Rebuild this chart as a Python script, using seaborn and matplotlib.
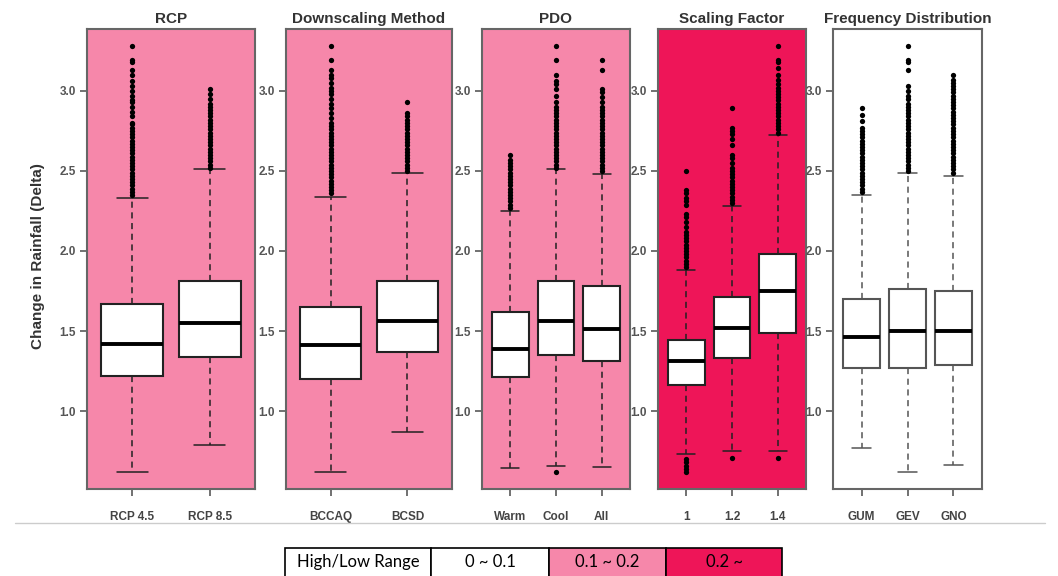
import matplotlib
matplotlib.use("Agg")
import matplotlib.pyplot as plt
from matplotlib.lines import Line2D
from matplotlib.patches import Rectangle
import pandas as pd
import seaborn as sns

# ---- data ----
panel_titles = ["RCP", "Downscaling Method", "PDO", "Scaling Factor", "Frequency Distribution"]
panel_colors = ["#f687aa", "#f687aa", "#f687aa", "#ee1558", "#ffffff"]

rcp_labels = ["RCP 4.5", "RCP 8.5"]
rcp_low = [0.62, 0.79]
rcp_q1 = [1.22, 1.34]
rcp_med = [1.42, 1.55]
rcp_q3 = [1.67, 1.81]
rcp_high = [2.33, 2.51]
rcp_out = [
    [2.35, 2.37, 2.39, 2.41, 2.43, 2.45, 2.47, 2.49, 2.51, 2.53, 2.55, 2.57, 2.59, 2.61,
     2.63, 2.65, 2.67, 2.69, 2.71, 2.73, 2.75, 2.77, 2.79, 2.80, 2.84, 2.87, 2.90, 2.93,
     2.94, 2.97, 3.00, 3.03, 3.06, 3.10, 3.13, 3.18, 3.19, 3.28],
    [2.52, 2.54, 2.56, 2.58, 2.60, 2.62, 2.64, 2.66, 2.68, 2.70, 2.72, 2.74, 2.76, 2.78,
     2.80, 2.82, 2.84, 2.86, 2.88, 2.90, 2.92, 2.95, 2.98, 3.01],
]

dsm_labels = ["BCCAQ", "BCSD"]
dsm_low = [0.62, 0.87]
dsm_q1 = [1.20, 1.37]
dsm_med = [1.41, 1.56]
dsm_q3 = [1.65, 1.81]
dsm_high = [2.34, 2.49]
dsm_out = [
    [2.36, 2.38, 2.40, 2.42, 2.44, 2.46, 2.48, 2.50, 2.52, 2.54, 2.56, 2.58, 2.60, 2.62,
     2.64, 2.66, 2.68, 2.70, 2.72, 2.74, 2.76, 2.78, 2.80, 2.83, 2.86, 2.89, 2.92, 2.95,
     2.98, 3.00, 3.02, 3.05, 3.08, 3.10, 3.13, 3.19, 3.28],
    [2.50, 2.52, 2.54, 2.56, 2.58, 2.60, 2.62, 2.64, 2.66, 2.68, 2.70, 2.72, 2.74, 2.76,
     2.78, 2.80, 2.82, 2.84, 2.86, 2.93],
]

pdo_labels = ["Warm", "Cool", "All"]
pdo_low = [0.645, 0.66, 0.65]
pdo_q1 = [1.21, 1.35, 1.31]
pdo_med = [1.39, 1.56, 1.51]
pdo_q3 = [1.62, 1.81, 1.78]
pdo_high = [2.25, 2.51, 2.48]
pdo_out = [
    [2.27, 2.29, 2.31, 2.33, 2.35, 2.37, 2.39, 2.41, 2.43, 2.45, 2.47, 2.49, 2.51, 2.53,
     2.55, 2.57, 2.60],
    [0.62, 2.52, 2.54, 2.56, 2.58, 2.60, 2.62, 2.64, 2.66, 2.68, 2.70, 2.72, 2.74, 2.76,
     2.78, 2.80, 2.82, 2.84, 2.86, 2.88, 2.90, 2.93, 2.97, 3.01, 3.04, 3.06, 3.10, 3.19, 3.28],
    [2.50, 2.52, 2.54, 2.56, 2.58, 2.60, 2.62, 2.64, 2.66, 2.68, 2.70, 2.72, 2.74, 2.76,
     2.78, 2.80, 2.82, 2.84, 2.86, 2.88, 2.90, 2.93, 2.96, 2.99, 3.01, 3.13, 3.19],
]

sf_labels = ["1", "1.2", "1.4"]
sf_low = [0.73, 0.75, 0.75]
sf_q1 = [1.16, 1.33, 1.49]
sf_med = [1.31, 1.52, 1.75]
sf_q3 = [1.445, 1.71, 1.98]
sf_high = [1.88, 2.28, 2.725]
sf_out = [
    [0.62, 0.64, 0.66, 0.68, 0.70, 1.90, 1.92, 1.94, 1.96, 1.98, 2.00, 2.02, 2.04, 2.06,
     2.08, 2.10, 2.12, 2.15, 2.18, 2.21, 2.23, 2.29, 2.31, 2.33, 2.36, 2.38, 2.50],
    [0.71, 2.30, 2.32, 2.34, 2.36, 2.38, 2.40, 2.42, 2.44, 2.46, 2.48, 2.50, 2.52, 2.55,
     2.58, 2.60, 2.66, 2.70, 2.73, 2.75, 2.77, 2.89],
    [0.71, 2.74, 2.76, 2.78, 2.80, 2.82, 2.84, 2.86, 2.88, 2.90, 2.92, 2.94, 2.96, 2.98,
     3.00, 3.02, 3.04, 3.07, 3.10, 3.14, 3.18, 3.19, 3.28],
]

fd_labels = ["GUM", "GEV", "GNO"]
fd_low = [0.77, 0.62, 0.665]
fd_q1 = [1.27, 1.27, 1.29]
fd_med = [1.465, 1.50, 1.50]
fd_q3 = [1.70, 1.76, 1.75]
fd_high = [2.35, 2.485, 2.47]
fd_out = [
    [2.37, 2.39, 2.41, 2.43, 2.45, 2.47, 2.49, 2.51, 2.53, 2.55, 2.57, 2.59, 2.61, 2.63,
     2.65, 2.67, 2.69, 2.71, 2.73, 2.75, 2.77, 2.81, 2.85, 2.89],
    [2.50, 2.52, 2.54, 2.56, 2.58, 2.60, 2.62, 2.64, 2.66, 2.68, 2.70, 2.72, 2.74, 2.76,
     2.78, 2.80, 2.82, 2.84, 2.86, 2.88, 2.90, 2.92, 2.95, 2.97, 3.00, 3.03, 3.13, 3.18,
     3.19, 3.28],
    [2.49, 2.51, 2.53, 2.55, 2.57, 2.59, 2.61, 2.63, 2.65, 2.67, 2.69, 2.71, 2.73, 2.75,
     2.77, 2.79, 2.81, 2.83, 2.85, 2.87, 2.89, 2.91, 2.93, 2.95, 2.97, 2.99, 3.01, 3.03,
     3.05, 3.07, 3.10],
]

legend_labels = ["High/Low Range", "0 ~ 0.1", "0.1 ~ 0.2", "0.2 ~"]
legend_colors = ["#ffffff", "#ffffff", "#f687aa", "#ee1558"]

panels = [
    (rcp_labels, rcp_low, rcp_q1, rcp_med, rcp_q3, rcp_high, rcp_out),
    (dsm_labels, dsm_low, dsm_q1, dsm_med, dsm_q3, dsm_high, dsm_out),
    (pdo_labels, pdo_low, pdo_q1, pdo_med, pdo_q3, pdo_high, pdo_out),
    (sf_labels, sf_low, sf_q1, sf_med, sf_q3, sf_high, sf_out),
    (fd_labels, fd_low, fd_q1, fd_med, fd_q3, fd_high, fd_out),
]

# ---- layout (pixels of the 1058x576 canvas) ----
W, H = 1058, 576
panel_px = [(87, 255), (286, 452), (482, 630), (658, 806), (833, 982)]
top_px, bottom_px = 29, 489

sns.set_theme(style="ticks")
plt.rcParams["font.family"] = ["Liberation Sans", "DejaVu Sans"]
narrow = ["Liberation Sans Narrow", "Liberation Sans", "DejaVu Sans"]

fig = plt.figure(figsize=(W / 100, H / 100), dpi=100)

# common y range: data extremes + 4% like R
all_vals = []
for p in panels:
    all_vals += p[1] + p[5]
    for o in p[6]:
        all_vals += o
ymin, ymax = min(all_vals), max(all_vals)
pad = 0.04 * (ymax - ymin)

for i, (labels, low, q1, med, q3, high, outs) in enumerate(panels):
    x0, x1 = panel_px[i]
    ax = fig.add_axes([x0 / W, 1 - bottom_px / H, (x1 - x0) / W, (bottom_px - top_px) / H])
    ax.set_facecolor(panel_colors[i])
    n = len(labels)

    stats = []
    for j in range(n):
        stats.append(dict(label=labels[j], whislo=low[j], q1=q1[j], med=med[j],
                          q3=q3[j], whishi=high[j]))
    edge = "#222222" if i < 4 else "#555555"
    ax.bxp(stats, positions=list(range(n)), widths=0.8, showfliers=False,
           patch_artist=True, manage_ticks=False,
           boxprops=dict(facecolor="white", edgecolor=edge, linewidth=1.5),
           medianprops=dict(color="black", linewidth=2.8),
           whiskerprops=dict(color=edge, linewidth=1.1, linestyle=(0, (4, 3))),
           capprops=dict(color=edge, linewidth=1.1))

    # outliers through seaborn's categorical axis
    rows = []
    for j in range(n):
        for v in outs[j]:
            rows.append({"group": labels[j], "value": v})
    df = pd.DataFrame(rows)
    sns.stripplot(data=df, x="group", y="value", order=labels, jitter=False,
                  color="black", size=3.8, linewidth=0, ax=ax, zorder=3)

    ax.set_xlim(-0.5 - 0.04 * n, n - 0.5 + 0.04 * n)
    ax.set_ylim(ymin - pad, ymax + pad)
    ax.set_xlabel("")
    ax.set_ylabel("")
    ax.set_xticks(list(range(n)))
    ax.set_xticklabels(labels, family=narrow, fontweight="bold", fontsize=8.5, color="#444444")
    ax.set_yticks([1.0, 1.5, 2.0, 2.5, 3.0])
    ax.set_yticklabels(["1.0", "1.5", "2.0", "2.5", "3.0"], family=narrow,
                       fontweight="bold", fontsize=8.5, color="#555555")
    ax.tick_params(axis="both", length=5, width=1.3, color="#666666", pad=3)
    ax.tick_params(axis="x", pad=11)
    for s in ax.spines.values():
        s.set_visible(True)
        s.set_color("#666666")
        s.set_linewidth(1.5)
    ax.set_title(panel_titles[i], family=narrow, fontweight="bold", fontsize=11,
                 color="#333333", pad=4)

fig.text(38 / W, 1 - 256 / H, "Change in Rainfall (Delta)", rotation=90,
         ha="center", va="center", fontsize=11, fontweight="bold", color="#333333")

fig.add_artist(Line2D([15 / W, 1045 / W], [1 - 523 / H, 1 - 523 / H],
                      color="#cccccc", linewidth=1))

# legend table at the bottom
lx0, lx1 = 285, 782
lax = fig.add_axes([lx0 / W, -8 / H, (lx1 - lx0) / W, 36 / H])
lax.set_xlim(0, lx1 - lx0)
lax.set_ylim(0, 36)
lax.axis("off")
cell_edges = [0, 146, 264, 381, 497]
for k, lab in enumerate(legend_labels):
    a, b = cell_edges[k], cell_edges[k + 1]
    lax.add_patch(Rectangle((a, 0), b - a, 36, facecolor=legend_colors[k],
                            edgecolor="black", linewidth=1.2, clip_on=False))
    lax.text((a + b) / 2, 22, lab, ha="center", va="center", fontsize=12,
             family=["Lato", "DejaVu Sans"], color="black")

fig.savefig("out.png", dpi=100)
